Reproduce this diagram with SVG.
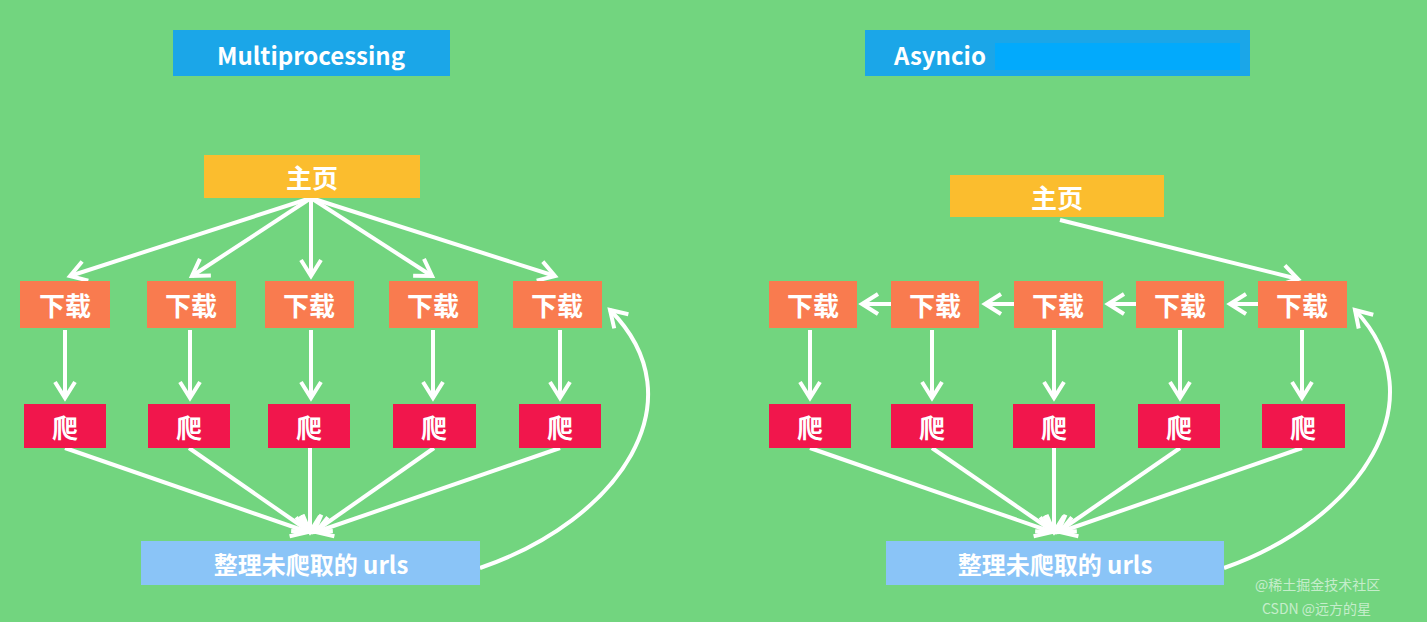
<svg xmlns="http://www.w3.org/2000/svg" width="1427" height="622" viewBox="0 0 1427 622">
<style>
.t{font-family:"Noto Sans CJK SC","Liberation Sans",sans-serif;font-weight:bold;fill:#fff;text-anchor:middle;dominant-baseline:central}
.c{stroke:#fff;stroke-width:4;fill:none;marker-end:url(#a)}
.dl{fill:#f97b4f}.cr{fill:#f1164c}
</style>
<defs><marker id="a" markerWidth="6" markerHeight="6" refX="4.5" refY="3" orient="auto" markerUnits="strokeWidth"><path d="M0.5,0.5 L4.5,3 L0.5,5.5" fill="none" stroke="#fff" stroke-width="1"/></marker></defs>
<rect width="1427" height="622" fill="#72d57f"/>
<g id="titleL"><rect x="173" y="30" width="277" height="46" fill="#1ba6e8"/><text class="t" x="311" y="54" font-size="24" font-family="Open Sans">Multiprocessing</text></g>
<g id="titleR"><rect x="865" y="30" width="385" height="46" fill="#1ba6e8"/><rect x="995" y="43" width="245" height="27" fill="#02aafc"/><text class="t" x="940" y="54" font-size="24">Asyncio</text></g>
<g id="connectors">
<path class="c" d="M311,198 L70,276"/><path class="c" d="M311,198 L192,276"/><path class="c" d="M311,198 L311,276"/><path class="c" d="M311,198 L432,276"/><path class="c" d="M311,198 L555,276"/>
<path class="c" d="M65,330 V398"/><path class="c" d="M190,330 V398"/><path class="c" d="M311,330 V398"/><path class="c" d="M433,330 V398"/><path class="c" d="M560,330 V398"/>
<path class="c" d="M65,448 L308,532"/><path class="c" d="M189,448 L310,532"/><path class="c" d="M310,448 V532"/><path class="c" d="M434,448 L314,532"/><path class="c" d="M560,448 L316,532"/>
<path class="c" d="M480,568 C620,520 700,400 610,310"/>
<path class="c" d="M1060,220 L1298,279"/>
<path class="c" d="M1258,304 H1230"/><path class="c" d="M1136,304 H1108"/><path class="c" d="M1014,304 H985"/><path class="c" d="M891,304 H862"/>
<path class="c" d="M810,330 V398"/><path class="c" d="M932,330 V398"/><path class="c" d="M1054,330 V398"/><path class="c" d="M1180,330 V398"/><path class="c" d="M1302,330 V398"/>
<path class="c" d="M810,448 L1052,532"/><path class="c" d="M932,448 L1054,532"/><path class="c" d="M1054,448 V532"/><path class="c" d="M1180,448 L1058,532"/><path class="c" d="M1302,448 L1060,532"/>
<path class="c" d="M1224,568 C1360,520 1440,400 1355,310"/>
</g>
<g id="homeL"><rect x="204" y="155" width="216" height="43" fill="#fbbd2e"/><text class="t" x="312" y="176" font-size="26">主页</text></g>
<g id="homeR"><rect x="950" y="175" width="214" height="42" fill="#fbbd2e"/><text class="t" x="1057" y="196" font-size="26">主页</text></g>
<g id="dlL1"><rect class="dl" x="20" y="281" width="90" height="47"/><text class="t" x="65" y="304" font-size="26">下载</text></g>
<g id="dlL2"><rect class="dl" x="147" y="281" width="89" height="47"/><text class="t" x="191" y="304" font-size="26">下载</text></g>
<g id="dlL3"><rect class="dl" x="265" y="281" width="89" height="47"/><text class="t" x="309" y="304" font-size="26">下载</text></g>
<g id="dlL4"><rect class="dl" x="389" y="281" width="89" height="47"/><text class="t" x="433" y="304" font-size="26">下载</text></g>
<g id="dlL5"><rect class="dl" x="513" y="281" width="89" height="47"/><text class="t" x="557" y="304" font-size="26">下载</text></g>
<g id="crL1"><rect class="cr" x="24" y="404" width="82" height="44"/><text class="t" x="65" y="426" font-size="26">爬</text></g>
<g id="crL2"><rect class="cr" x="148" y="404" width="82" height="44"/><text class="t" x="189" y="426" font-size="26">爬</text></g>
<g id="crL3"><rect class="cr" x="268" y="404" width="82" height="44"/><text class="t" x="309" y="426" font-size="26">爬</text></g>
<g id="crL4"><rect class="cr" x="393" y="404" width="83" height="44"/><text class="t" x="434" y="426" font-size="26">爬</text></g>
<g id="crL5"><rect class="cr" x="519" y="404" width="82" height="44"/><text class="t" x="560" y="426" font-size="26">爬</text></g>
<g id="dlR1"><rect class="dl" x="769" y="281" width="88" height="47"/><text class="t" x="813" y="304" font-size="26">下载</text></g>
<g id="dlR2"><rect class="dl" x="891" y="281" width="88" height="47"/><text class="t" x="935" y="304" font-size="26">下载</text></g>
<g id="dlR3"><rect class="dl" x="1014" y="281" width="89" height="47"/><text class="t" x="1058" y="304" font-size="26">下载</text></g>
<g id="dlR4"><rect class="dl" x="1136" y="281" width="88" height="47"/><text class="t" x="1180" y="304" font-size="26">下载</text></g>
<g id="dlR5"><rect class="dl" x="1258" y="281" width="89" height="47"/><text class="t" x="1302" y="304" font-size="26">下载</text></g>
<g id="crR1"><rect class="cr" x="769" y="404" width="82" height="44"/><text class="t" x="810" y="426" font-size="26">爬</text></g>
<g id="crR2"><rect class="cr" x="891" y="404" width="82" height="44"/><text class="t" x="932" y="426" font-size="26">爬</text></g>
<g id="crR3"><rect class="cr" x="1013" y="404" width="82" height="44"/><text class="t" x="1054" y="426" font-size="26">爬</text></g>
<g id="crR4"><rect class="cr" x="1138" y="404" width="82" height="44"/><text class="t" x="1179" y="426" font-size="26">爬</text></g>
<g id="crR5"><rect class="cr" x="1262" y="404" width="83" height="44"/><text class="t" x="1303" y="426" font-size="26">爬</text></g>
<g id="urlL"><rect x="141" y="541" width="339" height="44" fill="#8ac4f7"/><text class="t" x="311" y="563" font-size="24">整理未爬取的 urls</text></g>
<g id="urlR"><rect x="886" y="541" width="338" height="44" fill="#8ac4f7"/><text class="t" x="1055" y="563" font-size="24">整理未爬取的 urls</text></g>
<g font-family="Noto Sans CJK SC,sans-serif" font-size="14" fill="#fff" fill-opacity="0.6"><text x="1255" y="590">@稀土掘金技术社区</text><text x="1262" y="614">CSDN @远方的星</text></g>
</svg>
